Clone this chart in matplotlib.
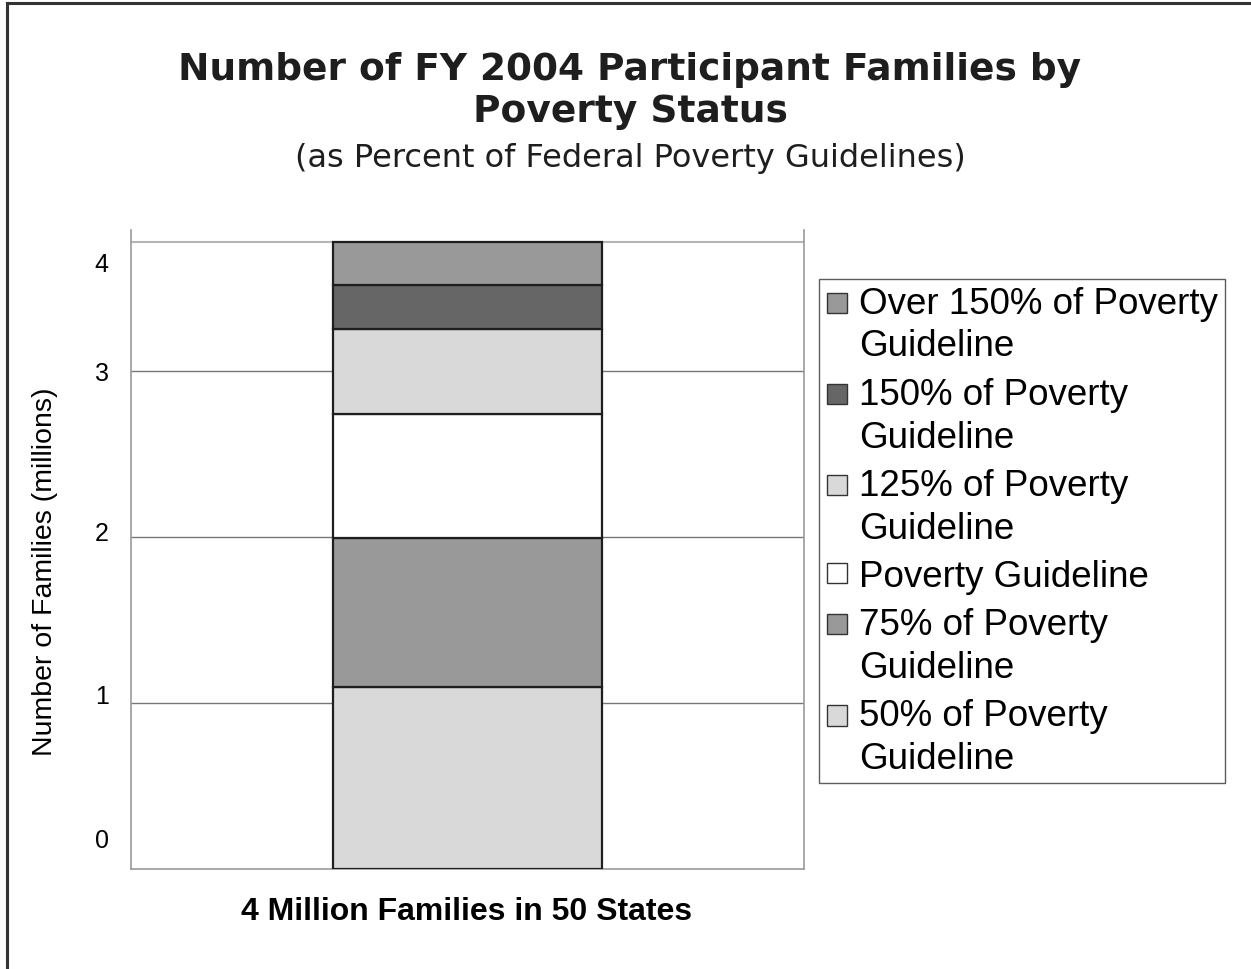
import matplotlib
matplotlib.use("Agg")
import matplotlib.pyplot as plt
import numpy as np
from matplotlib.lines import Line2D
from matplotlib.patches import Patch, Rectangle
from matplotlib.legend_handler import HandlerPatch

# stacked from the bottom up (millions of families)
categories = [
    "50% of Poverty\nGuideline",
    "75% of Poverty\nGuideline",
    "Poverty Guideline",
    "125% of Poverty\nGuideline",
    "150% of Poverty\nGuideline",
    "Over 150% of Poverty\nGuideline",
]
values = [1.096, 0.898, 0.747, 0.512, 0.265, 0.259]
colors = ["#d9d9d9", "#999999", "#ffffff", "#d9d9d9", "#666666", "#999999"]

bar_label = "4 Million Families in 50 States"
ytick_pos = [0.19, 1.06, 2.04, 3.0, 3.66]
ytick_labels = ["0", "1", "2", "3", "4"]
grid_levels = [1, 2, 3]

W, H = 1251, 970
fig = plt.figure(figsize=(W / 100, H / 100), dpi=100, facecolor="white")

# page frame (top and left only)
fig.add_artist(Line2D([7 / W, 7 / W], [0, 1 - 4 / H], color="#333333", lw=2.2))
fig.add_artist(Line2D([7 / W, 1], [1 - 4 / H, 1 - 4 / H], color="#333333", lw=2.2))

ax = fig.add_axes([131 / W, 1 - 870 / H, (804 - 131) / W, (870 - 231) / H])

total = sum(values)
bottom = 0.0
for v, c in zip(values, colors):
    ax.bar(0, v, bottom=bottom, width=0.8, color=c, edgecolor="#1e1e1e", linewidth=1.6, zorder=3)
    bottom += v

for g in grid_levels:
    ax.axhline(g, color="#777777", lw=1.0, zorder=1)
ax.axhline(total, color="#b5b5b5", lw=1.5, zorder=1)

ax.set_xlim(-1, 1)
ax.set_ylim(0, total + 12 / 166)
ax.set_xticks([])
ax.set_yticks(ytick_pos)
ax.set_yticklabels(ytick_labels, family="Liberation Sans", fontsize=18)
ax.tick_params(axis="y", length=0, pad=16)
ax.spines["top"].set_visible(False)
for s in ["left", "right", "bottom"]:
    ax.spines[s].set_color("#999999")
    ax.spines[s].set_linewidth(1.2)

fig.text(45 / W, 1 - 572 / H, "Number of Families (millions)", rotation=90, ha="center", va="center",
         family="Liberation Sans", fontsize=20.5)
fig.text(467 / W, 1 - 912 / H, bar_label, ha="center", va="center",
         family="Liberation Sans", weight="bold", fontsize=23)

fig.text(630 / W, 1 - 70 / H, "Number of FY 2004 Participant Families by", ha="center", va="center",
         family="DejaVu Sans", weight="bold", fontsize=27, color="#1e1e1e")
fig.text(630 / W, 1 - 112 / H, "Poverty Status", ha="center", va="center",
         family="DejaVu Sans", weight="bold", fontsize=27, color="#1e1e1e")
fig.text(630 / W, 1 - 158 / H, "(as Percent of Federal Poverty Guidelines)", ha="center", va="center",
         family="DejaVu Sans", fontsize=23, color="#1e1e1e")


def make_square(shift):
    def patch_func(legend, orig_handle, xdescent, ydescent, width, height, fontsize):
        side = 0.55 * fontsize
        return Rectangle((-xdescent + (width - side) / 2, -ydescent + (height - side) / 2 + shift), side, side)
    return HandlerPatch(patch_func=patch_func)


handles = [Patch(facecolor=c, edgecolor="#333333", linewidth=1.0) for c in colors]
handler_map = {h: make_square(16.0 if "\n" in lab else 0.0) for h, lab in zip(handles, categories)}
leg = ax.legend(handles[::-1], categories[::-1], loc="upper left", handler_map=handler_map,
                bbox_to_anchor=(819 / W, 1 - 280 / H), bbox_transform=fig.transFigure,
                prop={"family": "Liberation Sans", "size": 26.5}, frameon=True, fancybox=False,
                edgecolor="#333333", handlelength=0.6, handleheight=0.6, handletextpad=0.32,
                labelspacing=0.36, borderpad=0.18, borderaxespad=0)
leg.get_frame().set_linewidth(1.0)
for t in leg.get_texts():
    t.set_linespacing(1.29)

fig.savefig("out.png", dpi=100, facecolor="white")
